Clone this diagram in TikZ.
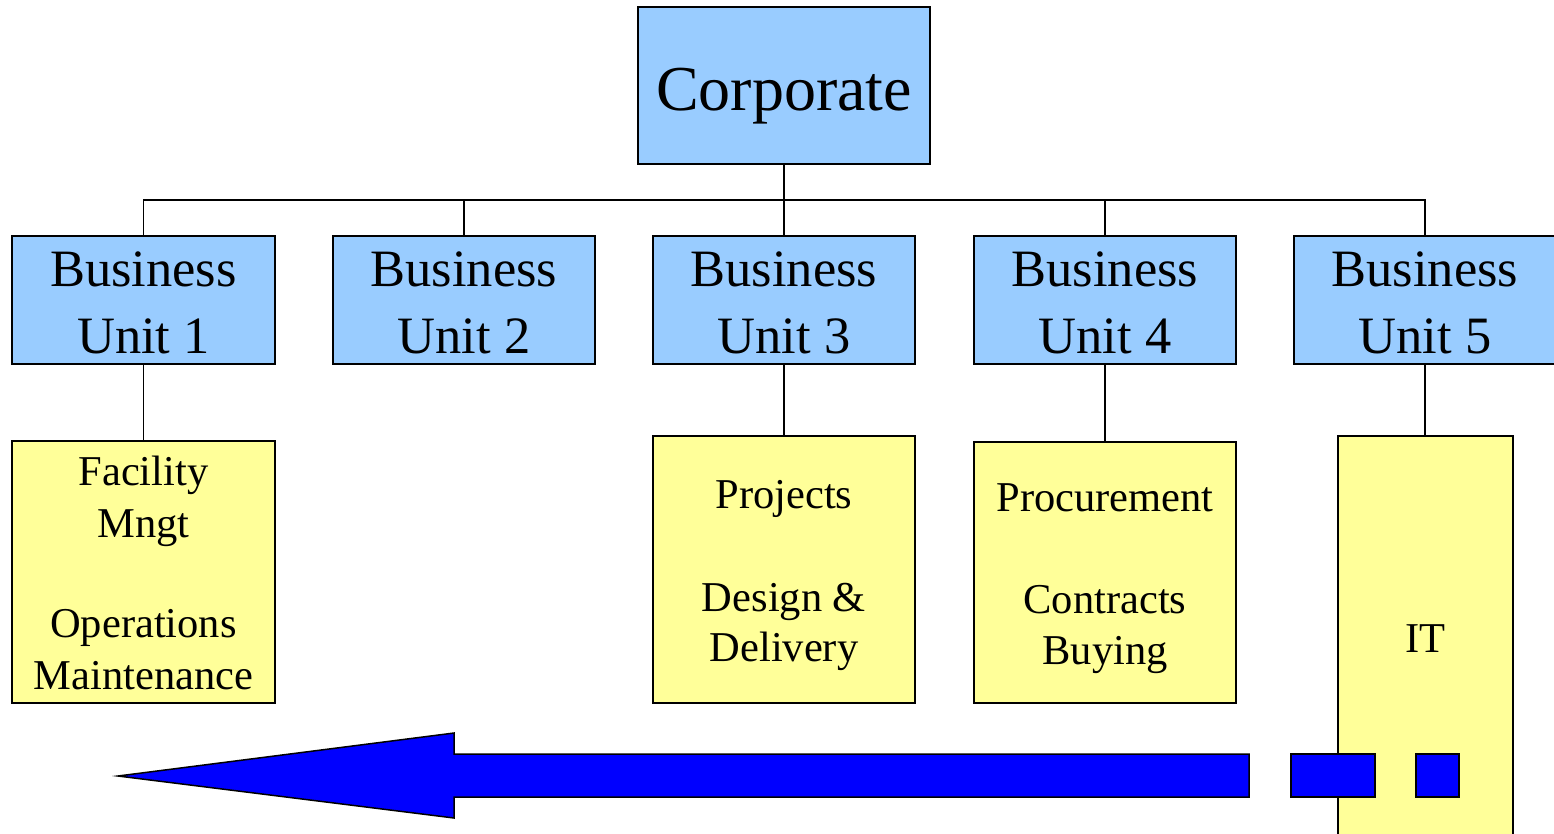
\documentclass[tikz,border=0pt]{standalone}
\usepackage{fontspec}
\setmainfont{Liberation Serif}
\definecolor{boxblue}{HTML}{99CCFF}
\definecolor{boxyellow}{HTML}{FFFF99}
\definecolor{arrowblue}{HTML}{0000FF}
\tikzset{
  bluebox/.style={draw=black, fill=boxblue, line width=1.5pt, rectangle, inner sep=0pt},
  yelbox/.style={draw=black, fill=boxyellow, line width=1.5pt, rectangle, inner sep=0pt},
  conn/.style={draw=black, line width=1.5pt},
  corpfont/.style={anchor=base, inner sep=0pt, font=\fontsize{64pt}{77pt}\selectfont},
  bizfont/.style={anchor=base, inner sep=0pt, font=\fontsize{52.5pt}{63pt}\selectfont},
  subfont/.style={anchor=base, inner sep=0pt, font=\fontsize{42.5pt}{51pt}\selectfont},
  arrowshape/.style={fill=arrowblue, draw=black, line width=1.5pt, line join=miter}
}
\begin{document}
\begin{tikzpicture}[x=1pt, y=-1pt]
\useasboundingbox (0,0) rectangle (1554,833);
\clip (0,0) rectangle (1554,833);

% top level
\node[bluebox, minimum width=292pt, minimum height=157pt] (corp) at (784,85.5) {};
\node[corpfont] (corpt) at (784,110) {Corporate};

% business units
\node[bluebox, minimum width=263pt, minimum height=128pt] (bu1) at (143.5,300) {};
\node[bluebox, minimum width=262pt, minimum height=128pt] (bu2) at (464,300) {};
\node[bluebox, minimum width=262pt, minimum height=128pt] (bu3) at (784,300) {};
\node[bluebox, minimum width=262pt, minimum height=128pt] (bu4) at (1105,300) {};
\node[bluebox, minimum width=262pt, minimum height=128pt] (bu5) at (1425,300) {};
\foreach \n/\x in {1/143.5, 2/464, 3/784, 4/1105, 5/1425}{
  \node[bizfont] (bu\n a) at (\x,286) {Business};
  \node[bizfont] (bu\n b) at (\x,353) {Unit \n};
}

% bus connectors
\coordinate (bus) at (784,200);
\draw[conn] (corp.south) -- (bu3.north);
\draw[conn] (bu1.north) |- (bus) -| (bu5.north);
\draw[conn] (bu2.north) -- (bu2.north |- bus);
\draw[conn] (bu4.north) -- (bu4.north |- bus);

% functional boxes
\node[yelbox, minimum width=263pt, minimum height=262pt] (f1) at (143.5,572) {};
\node[yelbox, minimum width=262pt, minimum height=267pt] (f3) at (784,569.5) {};
\node[yelbox, minimum width=262pt, minimum height=261pt] (f4) at (1105,572.5) {};
\node[yelbox, minimum width=175pt, minimum height=464pt] (it) at (1425.5,668) {};

\draw[conn] (bu1.south) -- (bu1.south |- f1.north);
\draw[conn] (bu3.south) -- (bu3.south |- f3.north);
\draw[conn] (bu4.south) -- (bu4.south |- f4.north);
\draw[conn] (bu5.south) -- (bu5.south |- it.north);

\node[subfont] (f1a) at (143.5,485) {Facility};
\node[subfont] (f1b) at (143.5,537) {Mngt};
\node[subfont] (f1c) at (143.5,637) {Operations};
\node[subfont] (f1d) at (143.5,689) {Maintenance};

\node[subfont] (f3a) at (784,508) {Projects};
\node[subfont] (f3b) at (784,611) {Design \&};
\node[subfont] (f3c) at (784,661) {Delivery};

\node[subfont] (f4a) at (1105,511) {Procurement};
\node[subfont] (f4b) at (1105,613) {Contracts};
\node[subfont] (f4c) at (1105,664) {Buying};

\node[subfont] (itt) at (1425.5,652) {IT};

% big arrow
\draw[arrowshape] (118,776) -- (454,733) -- (454,754) -- (1249,754) -- (1249,797)
  -- (454,797) -- (454,818) -- cycle;
\draw[arrowshape] (1291,754) rectangle (1375,797);
\draw[arrowshape] (1416,754) rectangle (1459,797);
\end{tikzpicture}
\end{document}
